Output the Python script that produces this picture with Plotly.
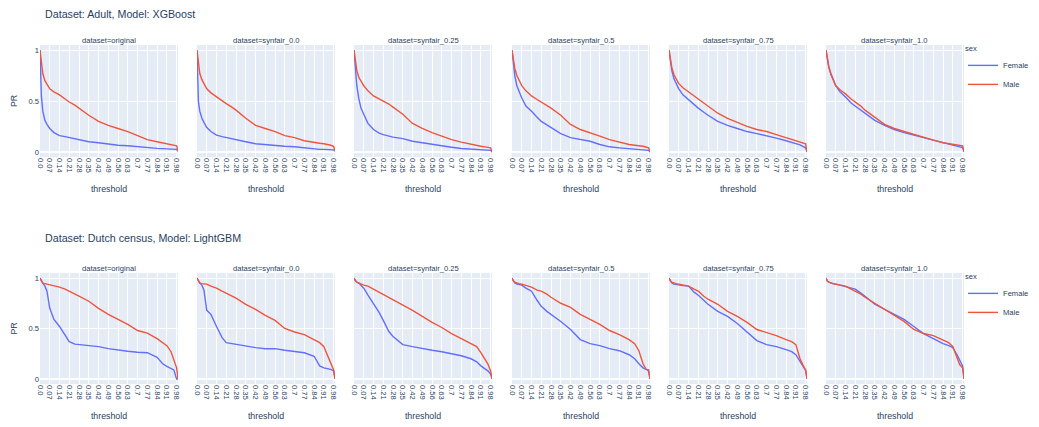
import plotly.graph_objects as go

# ---------------- data ----------------
threshold = [0.0, 0.01, 0.02, 0.035, 0.05, 0.07, 0.1, 0.14, 0.18, 0.21, 0.25, 0.28, 0.35,
             0.42, 0.49, 0.56, 0.63, 0.7, 0.77, 0.84, 0.88, 0.91, 0.94, 0.96, 0.98, 0.99]
tick_labels = ["0.0", "0.07", "0.14", "0.21", "0.28", "0.35", "0.42", "0.49", "0.56",
               "0.63", "0.7", "0.77", "0.84", "0.91", "0.98"]
datasets = ["original", "synfair_0.0", "synfair_0.25", "synfair_0.5", "synfair_0.75", "synfair_1.0"]
sexes = ["Female", "Male"]
titles = ["Dataset: Adult, Model: XGBoost", "Dataset: Dutch census, Model: LightGBM"]

# Adult / XGBoost
adult_original_F = [1.0, 0.55, 0.40, 0.31, 0.27, 0.23, 0.19, 0.16, 0.15, 0.14, 0.13, 0.12, 0.10,
                    0.09, 0.075, 0.065, 0.06, 0.05, 0.045, 0.035, 0.032, 0.03, 0.028, 0.026, 0.025, 0.005]
adult_original_M = [1.0, 0.85, 0.77, 0.70, 0.66, 0.62, 0.59, 0.56, 0.52, 0.49, 0.46, 0.43, 0.36,
                    0.30, 0.26, 0.23, 0.20, 0.16, 0.12, 0.10, 0.09, 0.08, 0.075, 0.07, 0.06, 0.01]
adult_s00_F = [1.0, 0.50, 0.40, 0.33, 0.29, 0.24, 0.20, 0.165, 0.15, 0.14, 0.13, 0.12, 0.10,
               0.08, 0.07, 0.06, 0.055, 0.05, 0.04, 0.025, 0.025, 0.025, 0.022, 0.02, 0.02, 0.005]
adult_s00_M = [1.0, 0.85, 0.77, 0.71, 0.67, 0.62, 0.58, 0.54, 0.50, 0.475, 0.44, 0.41, 0.33,
               0.26, 0.23, 0.20, 0.16, 0.14, 0.11, 0.09, 0.085, 0.08, 0.075, 0.065, 0.055, 0.01]
adult_s025_F = [1.0, 0.78, 0.65, 0.52, 0.43, 0.37, 0.28, 0.22, 0.185, 0.17, 0.155, 0.145, 0.13,
                0.105, 0.09, 0.073, 0.056, 0.046, 0.033, 0.026, 0.024, 0.023, 0.02, 0.018, 0.015, 0.0]
adult_s025_M = [1.0, 0.90, 0.80, 0.73, 0.69, 0.65, 0.60, 0.55, 0.52, 0.50, 0.47, 0.44, 0.37,
                0.28, 0.23, 0.19, 0.155, 0.12, 0.096, 0.073, 0.063, 0.056, 0.05, 0.045, 0.04, 0.0]
adult_s05_F = [1.0, 0.85, 0.75, 0.65, 0.59, 0.53, 0.45, 0.40, 0.34, 0.30, 0.265, 0.24, 0.18,
               0.14, 0.125, 0.105, 0.073, 0.05, 0.04, 0.033, 0.028, 0.023, 0.02, 0.018, 0.015, 0.0]
adult_s05_M = [1.0, 0.90, 0.82, 0.75, 0.70, 0.65, 0.60, 0.55, 0.515, 0.49, 0.46, 0.43, 0.36,
               0.27, 0.22, 0.19, 0.155, 0.12, 0.096, 0.073, 0.066, 0.063, 0.055, 0.048, 0.04, 0.0]
adult_s075_F = [1.0, 0.88, 0.80, 0.72, 0.67, 0.62, 0.56, 0.51, 0.46, 0.43, 0.39, 0.36, 0.30,
                0.26, 0.23, 0.20, 0.18, 0.16, 0.135, 0.11, 0.095, 0.085, 0.07, 0.055, 0.04, 0.0]
adult_s075_M = [1.0, 0.90, 0.83, 0.76, 0.72, 0.67, 0.63, 0.59, 0.55, 0.52, 0.48, 0.45, 0.38,
                0.33, 0.29, 0.25, 0.22, 0.20, 0.17, 0.14, 0.125, 0.115, 0.10, 0.09, 0.08, 0.0]
adult_s10_F = [1.0, 0.90, 0.84, 0.77, 0.71, 0.65, 0.59, 0.54, 0.48, 0.45, 0.41, 0.38, 0.31,
               0.26, 0.22, 0.19, 0.165, 0.135, 0.115, 0.085, 0.075, 0.066, 0.057, 0.05, 0.043, 0.0]
adult_s10_M = [1.0, 0.90, 0.83, 0.76, 0.71, 0.65, 0.61, 0.57, 0.52, 0.49, 0.45, 0.41, 0.34,
               0.27, 0.23, 0.20, 0.17, 0.14, 0.115, 0.09, 0.082, 0.076, 0.07, 0.065, 0.06, 0.0]

# Dutch census / LightGBM
dutch_original_F = [1.0, 0.97, 0.95, 0.92, 0.87, 0.70, 0.59, 0.52, 0.44, 0.37, 0.345, 0.34, 0.33,
                    0.32, 0.30, 0.285, 0.275, 0.265, 0.26, 0.215, 0.15, 0.125, 0.105, 0.09, 0.0, 0.0]
dutch_original_M = [1.0, 0.97, 0.95, 0.945, 0.94, 0.935, 0.92, 0.91, 0.89, 0.87, 0.845, 0.82, 0.77,
                    0.70, 0.64, 0.59, 0.54, 0.48, 0.455, 0.40, 0.36, 0.33, 0.27, 0.20, 0.11, 0.0]
dutch_s00_F = [1.0, 0.97, 0.95, 0.93, 0.88, 0.68, 0.64, 0.52, 0.41, 0.36, 0.35, 0.345, 0.33,
               0.31, 0.30, 0.30, 0.285, 0.275, 0.26, 0.225, 0.13, 0.11, 0.10, 0.095, 0.08, 0.0]
dutch_s00_M = [1.0, 0.97, 0.95, 0.945, 0.94, 0.94, 0.92, 0.90, 0.87, 0.85, 0.82, 0.80, 0.74,
               0.69, 0.63, 0.58, 0.50, 0.465, 0.44, 0.39, 0.36, 0.32, 0.22, 0.16, 0.09, 0.0]
dutch_s025_F = [1.0, 0.98, 0.96, 0.95, 0.93, 0.90, 0.83, 0.75, 0.66, 0.58, 0.47, 0.42, 0.34,
                0.32, 0.30, 0.285, 0.27, 0.25, 0.23, 0.20, 0.17, 0.13, 0.10, 0.08, 0.05, 0.0]
dutch_s025_M = [1.0, 0.97, 0.96, 0.95, 0.94, 0.93, 0.92, 0.89, 0.86, 0.84, 0.81, 0.79, 0.74,
                0.68, 0.62, 0.56, 0.51, 0.45, 0.40, 0.35, 0.32, 0.26, 0.20, 0.15, 0.08, 0.0]
dutch_s05_F = [1.0, 0.97, 0.95, 0.94, 0.935, 0.93, 0.90, 0.87, 0.78, 0.72, 0.67, 0.64, 0.57,
               0.49, 0.39, 0.35, 0.33, 0.30, 0.28, 0.24, 0.20, 0.15, 0.11, 0.095, 0.09, 0.0]
dutch_s05_M = [1.0, 0.97, 0.96, 0.95, 0.945, 0.94, 0.925, 0.91, 0.88, 0.87, 0.84, 0.81, 0.75,
               0.71, 0.64, 0.59, 0.54, 0.48, 0.44, 0.39, 0.35, 0.28, 0.15, 0.10, 0.076, 0.0]
dutch_s075_F = [1.0, 0.97, 0.95, 0.94, 0.935, 0.93, 0.925, 0.92, 0.86, 0.83, 0.78, 0.74, 0.67,
                0.62, 0.55, 0.46, 0.38, 0.34, 0.32, 0.29, 0.27, 0.24, 0.17, 0.12, 0.085, 0.0]
dutch_s075_M = [1.0, 0.97, 0.96, 0.95, 0.945, 0.94, 0.93, 0.92, 0.89, 0.87, 0.82, 0.79, 0.74,
                0.67, 0.62, 0.56, 0.49, 0.46, 0.43, 0.39, 0.37, 0.34, 0.20, 0.14, 0.09, 0.0]
dutch_s10_F = [1.0, 0.97, 0.96, 0.95, 0.945, 0.94, 0.93, 0.92, 0.90, 0.89, 0.85, 0.82, 0.74,
               0.69, 0.64, 0.59, 0.52, 0.45, 0.40, 0.35, 0.33, 0.31, 0.24, 0.18, 0.13, 0.0]
dutch_s10_M = [1.0, 0.97, 0.96, 0.95, 0.945, 0.94, 0.93, 0.92, 0.89, 0.87, 0.84, 0.81, 0.75,
               0.69, 0.63, 0.57, 0.49, 0.45, 0.43, 0.39, 0.36, 0.32, 0.20, 0.14, 0.11, 0.0]

adult_series = [(adult_original_F, adult_original_M), (adult_s00_F, adult_s00_M),
                (adult_s025_F, adult_s025_M), (adult_s05_F, adult_s05_M),
                (adult_s075_F, adult_s075_M), (adult_s10_F, adult_s10_M)]
dutch_series = [(dutch_original_F, dutch_original_M), (dutch_s00_F, dutch_s00_M),
                (dutch_s025_F, dutch_s025_M), (dutch_s05_F, dutch_s05_M),
                (dutch_s075_F, dutch_s075_M), (dutch_s10_F, dutch_s10_M)]
rows_data = [adult_series, dutch_series]

# ---------------- layout ----------------
OFF = 8  # default page (body) margin of the browser
W, H = 1039 - OFF, 427 - OFF


def px_x(v):
    return (v - OFF) / W


def px_y(v):
    return 1 - (v - OFF) / H


colors = {"Female": "#636efa", "Male": "#EF553B"}
col_left = [40, 197, 354, 512, 669, 826]  # window pixels
col_w = 138
row_px = [(45, 157), (273, 384)]  # top, bottom in window pixels
tick_vals = [i * 0.07 for i in range(len(tick_labels))]

TXT = "#2a3f5f"
FAM = "Arial, Liberation Sans, sans-serif"
FS_TICK = 7.6

fig = go.Figure()
layout = dict(
    width=W, height=H, autosize=False,
    margin=dict(l=0, r=0, t=0, b=0, pad=0),
    template="plotly",
    font=dict(family=FAM, size=FS_TICK, color=TXT),
    showlegend=True,
    annotations=[],
)

for r in range(2):
    top, bot = row_px[r]
    ydom = [px_y(bot), px_y(top)]
    for c in range(6):
        i = r * 6 + c + 1
        xs = "" if i == 1 else str(i)
        xdom = [px_x(col_left[c]), px_x(col_left[c] + col_w)]
        layout["xaxis" + xs] = dict(
            domain=xdom, anchor="y" + xs, range=[0, 0.99], automargin=False,
            tickmode="array", tickvals=tick_vals, ticktext=tick_labels,
            tickangle=90, tickfont=dict(size=FS_TICK),
            title=dict(text="threshold", font=dict(size=8.8), standoff=14),
            showgrid=True, gridcolor="white", zeroline=False,
        )
        layout["yaxis" + xs] = dict(
            domain=ydom, anchor="x" + xs, range=[-0.05, 1.05], automargin=False,
            tickvals=[0, 0.5, 1], ticktext=["0", "0.5", "1"],
            showticklabels=(c == 0), tickfont=dict(size=FS_TICK),
            title=dict(text="PR" if c == 0 else "", font=dict(size=8.8), standoff=9),
            gridcolor="white", zeroline=True, zerolinecolor="white", zerolinewidth=1.5,
        )
        f_vals, m_vals = rows_data[r][c]
        for sex, vals in zip(sexes, (f_vals, m_vals)):
            fig.add_trace(go.Scatter(
                x=threshold, y=vals, mode="lines", name=sex,
                line=dict(color=colors[sex], width=1.4),
                xaxis="x" + xs, yaxis="y" + xs,
                legendgroup=f"{sex}{r}", showlegend=(c == 0),
                legend="legend" if r == 0 else "legend2",
            ))
        layout["annotations"].append(dict(
            text="dataset=" + datasets[c], xref="paper", yref="paper",
            x=px_x(col_left[c] + col_w / 2), y=px_y(top - 5),
            xanchor="center", yanchor="middle", showarrow=False,
            font=dict(size=FS_TICK, color=TXT),
        ))
    layout["annotations"].append(dict(
        text=titles[r], xref="paper", yref="paper",
        x=px_x(43), y=px_y(14 if r == 0 else 238),
        xanchor="left", yanchor="middle", showarrow=False,
        font=dict(size=10.7, color=TXT),
    ))

leg_common = dict(
    title=dict(text="sex", font=dict(size=FS_TICK)),
    font=dict(size=FS_TICK), xanchor="left", yanchor="top",
    bgcolor="rgba(0,0,0,0)", tracegroupgap=0, itemwidth=30,
)
layout["legend"] = dict(x=px_x(963), y=px_y(41), **leg_common)
layout["legend2"] = dict(x=px_x(963), y=px_y(269), **leg_common)

fig.update_layout(**layout)
fig.write_html("out.html")
